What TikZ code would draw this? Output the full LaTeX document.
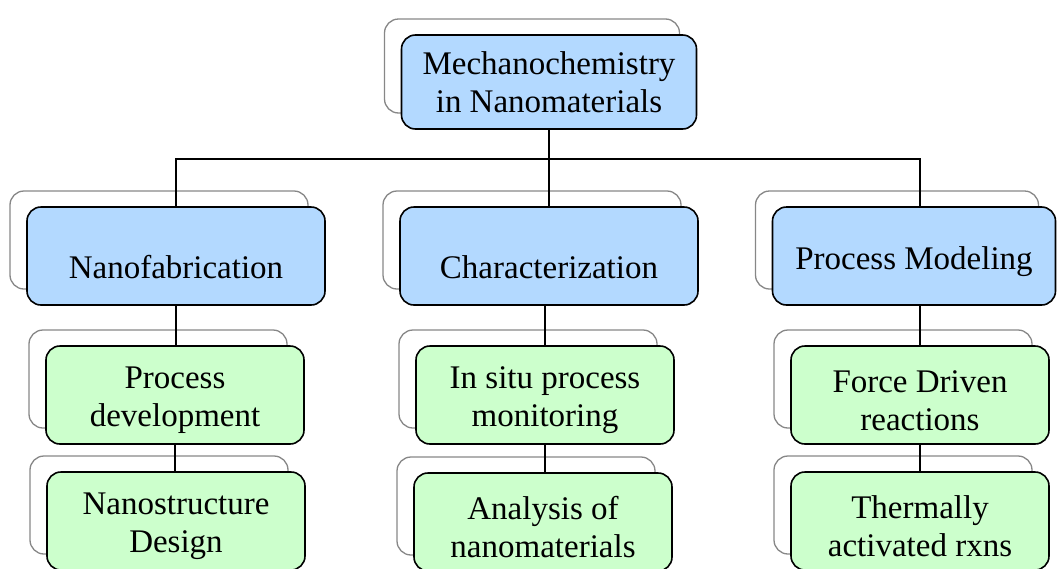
\documentclass[tikz,border=0pt]{standalone}
\usepackage{fontspec}
\setmainfont{Liberation Serif}
\definecolor{topblue}{RGB}{179,217,255}
\definecolor{leafgreen}{RGB}{204,255,204}
\definecolor{shadowgray}{RGB}{135,135,135}
\tikzset{
	backbox/.style={preaction={draw=shadowgray, fill=none, line width=1.3pt,
		transform canvas={shift={(-17pt,16pt)}}}},
	catbox/.style={backbox, draw, line width=1.6pt, rounded corners=14pt, fill=topblue,
		minimum width=298pt, minimum height=98pt, align=center, inner sep=2pt,
		font=\fontsize{33}{38}\selectfont},
	leafbox/.style={catbox, fill=leafgreen, minimum width=258pt, text height=71pt},
	link/.style={line width=1.4pt}
}

\begin{document}
\begin{tikzpicture}[x=1pt,y=-1pt]
	\useasboundingbox (0,0) rectangle (1057,568);
	\node[catbox, minimum width=295pt, minimum height=94pt] (root) at (549,82) {Mechanochemistry\\in Nanomaterials};
	\node[catbox, text height=45pt] (nanofab) at (176,256) {Nanofabrication};
	\node[catbox, text height=45pt] (charact) at (549,256) {Characterization};
	\node[catbox, minimum width=283pt, text height=35pt] (modeling) at (914,256) {Process Modeling};
	\node[leafbox] (procdev) at (175,395) {Process\\development};
	\node[leafbox] (nanodesign) at (176,521) {Nanostructure\\Design};
	\node[leafbox] (insitu) at (545,395) {In situ process\\monitoring};
	\node[leafbox] (analysis) at (543,522) {Analysis of\\nanomaterials};
	\node[leafbox] (force) at (920,395) {Force Driven\\reactions};
	\node[leafbox] (thermal) at (920,521) {Thermally\\activated rxns};
	\coordinate (bus) at (549,159);
	\draw[link] (root.south) -- (charact.north);
	\draw[link] (nanofab.north) |- (bus) -| (modeling.north -| force.north);
	\draw[link] (nanofab.south) -- (procdev.north -| nanofab.south);
	\draw[link] (procdev.south) -- (nanodesign.north -| procdev.south);
	\draw[link] (charact.south -| insitu.north) -- (insitu.north);
	\draw[link] (insitu.south) -- (analysis.north -| insitu.south);
	\draw[link] (modeling.south -| force.north) -- (force.north);
	\draw[link] (force.south) -- (thermal.north);
\end{tikzpicture}
\end{document}
